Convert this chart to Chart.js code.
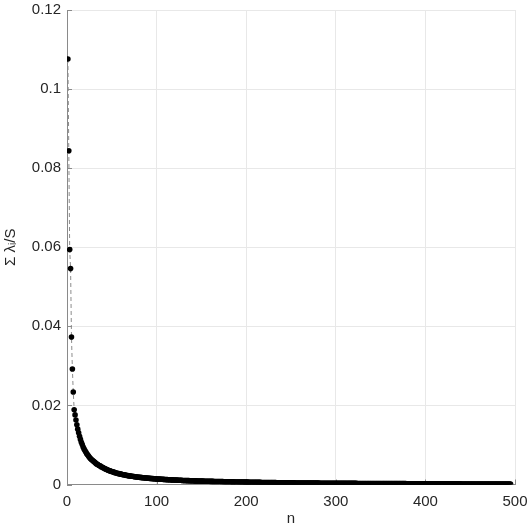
<!DOCTYPE html>
<html>
<head>
<meta charset="utf-8">
<script src="https://cdn.jsdelivr.net/npm/chart.js@4"></script>
<style>
  html, body { margin: 0; padding: 0; background: #fff; }
</style>
</head>
<body>
<canvas id="chart" width="532" height="532"></canvas>
<script>
// normalised eigenvalue ratio, one value per index n = 1, 2, 3 ...
const headRatio = [0.1076, 0.0844, 0.0594, 0.0546, 0.0373, 0.0292, 0.0234,
  0.0189, 0.0176, 0.0163, 0.0151, 0.0140, 0.0131, 0.0122, 0.0114, 0.0107, 0.0101,
  0.0095, 0.0090, 0.0086, 0.0082, 0.0078, 0.0075, 0.0072, 0.0069, 0.0066, 0.0064,
  0.0062, 0.0060, 0.0058, 0.0056, 0.0054, 0.0052, 0.0051, 0.0049, 0.0048, 0.0047,
  0.0045, 0.0044, 0.0043];
const midRatio = [0.00417, 0.00405, 0.00393, 0.00382, 0.00372, 0.00362, 0.00353, 0.00344, 0.00336, 0.00328,
  0.00320, 0.00313, 0.00306, 0.00299, 0.00292, 0.00286, 0.00280, 0.00274, 0.00268, 0.00262,
  0.00257, 0.00252, 0.00247, 0.00243, 0.00238, 0.00234, 0.00229, 0.00225, 0.00221, 0.00217,
  0.00214, 0.00210, 0.00207, 0.00203, 0.00200, 0.00197, 0.00194, 0.00191, 0.00188, 0.00185,
  0.00182, 0.00180, 0.00177, 0.00175, 0.00172, 0.00170, 0.00167, 0.00165, 0.00163, 0.00160,
  0.00158, 0.00156, 0.00154, 0.00152, 0.00150, 0.00148, 0.00146, 0.00145, 0.00143, 0.00141,
  0.00139, 0.00138, 0.00136, 0.00135, 0.00133, 0.00132, 0.00130, 0.00129, 0.00127, 0.00126,
  0.00125, 0.00123, 0.00122, 0.00121, 0.00120, 0.00118, 0.00117, 0.00116, 0.00115, 0.00113,
  0.00112, 0.00111, 0.00110, 0.00109, 0.00108, 0.00107, 0.00106, 0.00105, 0.00103, 0.00102,
  0.00101, 0.00100, 0.00099, 0.00099, 0.00098, 0.00097, 0.00096, 0.00095, 0.00094, 0.00094,
  0.00093, 0.00092, 0.00091, 0.00091, 0.00090, 0.00089, 0.00088, 0.00088, 0.00087, 0.00086,
  0.00085, 0.00085, 0.00084, 0.00083, 0.00083, 0.00082, 0.00081, 0.00081, 0.00080, 0.00080,
  0.00079, 0.00078, 0.00078, 0.00077, 0.00077, 0.00076, 0.00075, 0.00075, 0.00074, 0.00074,
  0.00073, 0.00073, 0.00072, 0.00072, 0.00071, 0.00071, 0.00070, 0.00070, 0.00069, 0.00069,
  0.00068, 0.00068, 0.00067, 0.00067, 0.00066, 0.00066, 0.00065, 0.00065, 0.00065, 0.00064,
  0.00064, 0.00063, 0.00063, 0.00062, 0.00062, 0.00062, 0.00061, 0.00061, 0.00060, 0.00060];
const tailRatio = [0.000595, 0.000590, 0.000585, 0.000580, 0.000576, 0.000571, 0.000566, 0.000562, 0.000557, 0.000553,
  0.000548, 0.000544, 0.000540, 0.000535, 0.000531, 0.000527, 0.000523, 0.000519, 0.000515, 0.000511,
  0.000507, 0.000503, 0.000499, 0.000495, 0.000491, 0.000488, 0.000484, 0.000480, 0.000477, 0.000473,
  0.000470, 0.000466, 0.000463, 0.000459, 0.000456, 0.000453, 0.000449, 0.000446, 0.000443, 0.000440,
  0.000437, 0.000434, 0.000431, 0.000428, 0.000425, 0.000422, 0.000419, 0.000416, 0.000413, 0.000410,
  0.000407, 0.000405, 0.000402, 0.000399, 0.000397, 0.000394, 0.000391, 0.000389, 0.000386, 0.000384,
  0.000381, 0.000379, 0.000376, 0.000374, 0.000372, 0.000369, 0.000367, 0.000365, 0.000362, 0.000360,
  0.000358, 0.000356, 0.000354, 0.000352, 0.000350, 0.000347, 0.000345, 0.000343, 0.000341, 0.000339,
  0.000337, 0.000335, 0.000333, 0.000331, 0.000329, 0.000327, 0.000325, 0.000323, 0.000321, 0.000319,
  0.000317, 0.000315, 0.000313, 0.000311, 0.000309, 0.000308, 0.000306, 0.000304, 0.000302, 0.000300,
  0.000299, 0.000298, 0.000296, 0.000295, 0.000294, 0.000293, 0.000292, 0.000290, 0.000289, 0.000288,
  0.000287, 0.000286, 0.000284, 0.000283, 0.000282, 0.000281, 0.000280, 0.000278, 0.000277, 0.000276,
  0.000275, 0.000274, 0.000272, 0.000271, 0.000270, 0.000269, 0.000268, 0.000266, 0.000265, 0.000264,
  0.000263, 0.000262, 0.000260, 0.000259, 0.000258, 0.000257, 0.000256, 0.000254, 0.000253, 0.000252,
  0.000251, 0.000250, 0.000248, 0.000247, 0.000246, 0.000245, 0.000244, 0.000242, 0.000241, 0.000240,
  0.000239, 0.000238, 0.000237, 0.000236, 0.000235, 0.000234, 0.000232, 0.000231, 0.000230, 0.000229,
  0.000228, 0.000227, 0.000226, 0.000225, 0.000224, 0.000223, 0.000221, 0.000220, 0.000219, 0.000218,
  0.000217, 0.000216, 0.000215, 0.000214, 0.000213, 0.000212, 0.000210, 0.000209, 0.000208, 0.000207,
  0.000206, 0.000205, 0.000204, 0.000203, 0.000202, 0.000201, 0.000199, 0.000198, 0.000197, 0.000196,
  0.000195, 0.000194, 0.000193, 0.000192, 0.000191, 0.000190, 0.000188, 0.000187, 0.000186, 0.000185,
  0.000184, 0.000183, 0.000182, 0.000181, 0.000180, 0.000179, 0.000178, 0.000177, 0.000176, 0.000175,
  0.000174, 0.000173, 0.000172, 0.000171, 0.000170, 0.000169, 0.000168, 0.000167, 0.000166, 0.000165,
  0.000164, 0.000163, 0.000162, 0.000161, 0.000160, 0.000159, 0.000158, 0.000157, 0.000156, 0.000155,
  0.000154, 0.000153, 0.000152, 0.000151, 0.000150, 0.000149, 0.000148, 0.000147, 0.000146, 0.000145,
  0.000144, 0.000143, 0.000142, 0.000141, 0.000140, 0.000139, 0.000138, 0.000137, 0.000136, 0.000135,
  0.000134, 0.000133, 0.000132, 0.000131, 0.000130, 0.000129, 0.000128, 0.000127, 0.000126, 0.000125,
  0.000124, 0.000123, 0.000122, 0.000121, 0.000120, 0.000119, 0.000118, 0.000117, 0.000116, 0.000115,
  0.000114, 0.000113, 0.000112, 0.000111, 0.000110, 0.000109, 0.000108, 0.000107, 0.000106, 0.000104,
  0.000103, 0.000102, 0.000100, 0.000099, 0.000098, 0.000097, 0.000096, 0.000095, 0.000093, 0.000092,
  0.000091, 0.000090, 0.000088, 0.000087, 0.000085];

const xTicks = [0, 100, 200, 300, 400, 500];
const yTicks = [0, 0.02, 0.04, 0.06, 0.08, 0.1, 0.12];
const xLabel = 'n';
const yLabel = 'Σ λᵢ/S';

const ratios = headRatio.concat(midRatio, tailRatio);
const points = ratios.map((v, i) => ({ x: i + 1, y: v }));

const FONT = "'Liberation Sans', Arial, 'DejaVu Sans', sans-serif";
const TEXT = '#262626';
const AXIS = '#8a8a8a';

// MATLAB-style short ticks pointing into the plot
const innerTicks = {
    id: 'innerTicks',
    beforeDatasetsDraw(chart) {
        const { ctx, chartArea, scales } = chart;
        ctx.save();
        ctx.strokeStyle = AXIS;
        ctx.lineWidth = 1;
        ctx.beginPath();
        xTicks.forEach(t => {
            const px = Math.round(scales.x.getPixelForValue(t)) + 0.5;
            ctx.moveTo(px, chartArea.bottom);
            ctx.lineTo(px, chartArea.bottom - 5);
        });
        yTicks.forEach(t => {
            const py = Math.round(scales.y.getPixelForValue(t)) + 0.5;
            ctx.moveTo(chartArea.left, py);
            ctx.lineTo(chartArea.left + 5, py);
        });
        ctx.stroke();
        ctx.restore();
    }
};

new Chart(document.getElementById('chart').getContext('2d'), {
    type: 'line',
    data: {
        datasets: [{
            data: points,
            borderColor: '#8c8c8c',
            borderWidth: 1,
            borderDash: [4, 3],
            pointRadius: 2.8,
            pointBackgroundColor: '#000',
            pointBorderWidth: 0,
            tension: 0
        }]
    },
    options: {
        responsive: false,
        animation: false,
        layout: { padding: { top: 10, right: 17, left: 0, bottom: 0 } },
        plugins: { legend: { display: false }, tooltip: { enabled: false } },
        scales: {
            x: {
                type: 'linear',
                min: 0,
                max: 500,
                afterFit: s => { s.height = 47.5; s.paddingLeft = 0; s.paddingRight = 0; },
                afterBuildTicks: s => { s.ticks = xTicks.map(v => ({ value: v })); },
                grid: { color: '#e8e8e8', drawTicks: false },
                border: { color: AXIS },
                ticks: { color: TEXT, padding: 8, font: { family: FONT, size: 15 } },
                title: { display: true, text: xLabel, color: TEXT, padding: { top: 0, bottom: 4 }, font: { family: FONT, size: 15 } }
            },
            y: {
                min: 0,
                max: 0.12,
                afterFit: s => { s.width = 67; s.paddingTop = 0; s.paddingBottom = 0; },
                afterBuildTicks: s => { s.ticks = yTicks.map(v => ({ value: v })); },
                grid: { color: '#e8e8e8', drawTicks: false },
                border: { color: AXIS },
                ticks: {
                    color: TEXT, padding: 6, font: { family: FONT, size: 15 },
                    callback: v => String(+v.toFixed(2))
                },
                title: { display: true, text: yLabel, color: TEXT, padding: { top: 2, bottom: 0 }, font: { family: FONT, size: 15 } }
            }
        }
    },
    plugins: [innerTicks]
});
</script>
</body>
</html>
